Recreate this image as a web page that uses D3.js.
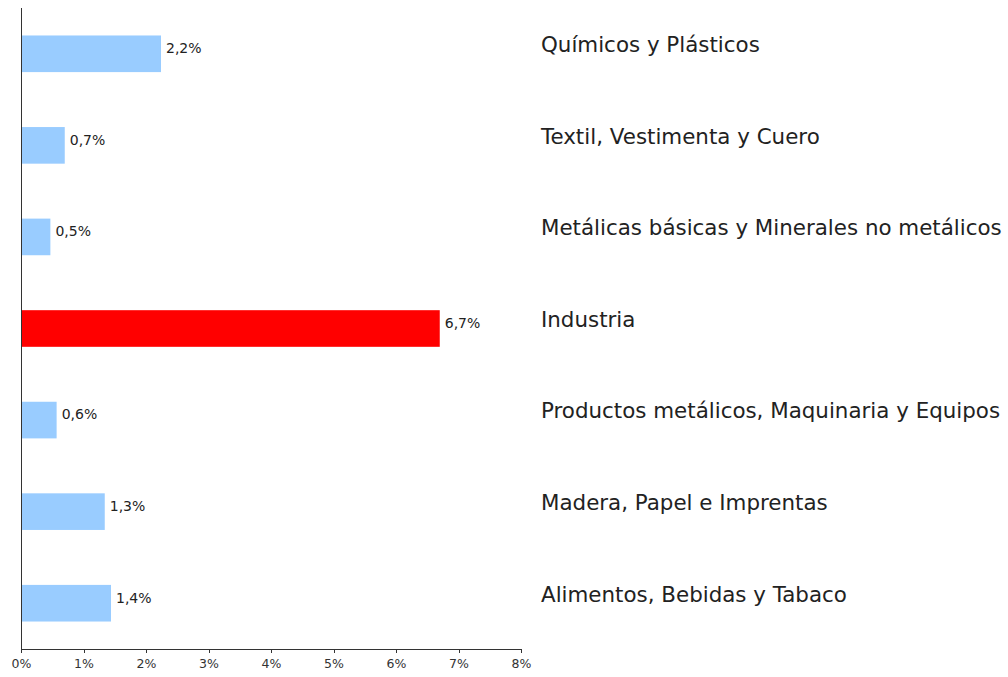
<!DOCTYPE html>
<meta charset="utf-8">
<style>
body { margin: 0; background: #fff; }
.axis path, .axis line { fill: none; stroke: #333; shape-rendering: crispEdges; }
.axis text { font: 12.5px "DejaVu Sans", sans-serif; fill: #333; }
.value { font: 14px "DejaVu Sans", sans-serif; fill: #222; }
.cat { font: 21.4px "DejaVu Sans", sans-serif; fill: #222; }
</style>
<body>
<script src="https://d3js.org/d3.v7.min.js"></script>
<script>

// data, top bar first
var categories = [
  "Químicos y Plásticos",
  "Textil, Vestimenta y Cuero",
  "Metálicas básicas y Minerales no metálicos",
  "Industria",
  "Productos metálicos, Maquinaria y Equipos",
  "Madera, Papel e Imprentas",
  "Alimentos, Bebidas y Tabaco"
];
var values = [2.24, 0.70, 0.47, 6.70, 0.57, 1.34, 1.44];
var highlight = ["Industria"];
var xTicks = [0, 1, 2, 3, 4, 5, 6, 7, 8];

var margin = {top: 8, right: 487, bottom: 28, left: 21},
    width = 1008 - margin.left - margin.right,
    height = 677 - margin.top - margin.bottom;

var svg = d3.select("body").append("svg")
    .attr("width", 1008)
    .attr("height", 677)
  .append("g")
    .attr("transform", "translate(" + margin.left + "," + margin.top + ")");

var x = d3.scaleLinear().domain([0, 8]).range([0, width]);
var y = d3.scaleBand().domain(categories).range([0, height])
    .paddingInner(0.6).paddingOuter(0.3);

var data = categories.map(function(c, i) { return {cat: c, v: values[i]}; });

// bars
svg.selectAll(".bar")
    .data(data)
  .enter().append("rect")
    .attr("class", "bar")
    .attr("x", 0)
    .attr("y", function(d) { return y(d.cat); })
    .attr("width", function(d) { return x(d.v); })
    .attr("height", y.bandwidth())
    .attr("fill", function(d) { return highlight.indexOf(d.cat) >= 0 ? "#ff0000" : "#99ccff"; });

// value labels
svg.selectAll(".value")
    .data(data)
  .enter().append("text")
    .attr("class", "value")
    .attr("x", function(d) { return x(d.v) + 5; })
    .attr("y", function(d) { return y(d.cat) + y.bandwidth() / 2; })
    .attr("dy", "-0.05em")
    .text(function(d) { return d.v.toFixed(1).replace(".", ",") + "%"; });

// category labels on the right
svg.selectAll(".cat")
    .data(data)
  .enter().append("text")
    .attr("class", "cat")
    .attr("x", width + 20)
    .attr("y", function(d) { return y(d.cat) + y.bandwidth() / 2; })
    .attr("dy", "-0.08em")
    .text(function(d) { return d.cat; });

// x axis
svg.append("g")
    .attr("class", "axis")
    .attr("transform", "translate(0," + height + ")")
    .call(d3.axisBottom(x).tickValues(xTicks).tickSize(4).tickSizeOuter(4)
      .tickPadding(6)
      .tickFormat(function(d) { return d + "%"; }));

// y axis line
svg.append("line")
    .attr("class", "axis")
    .attr("x1", 0).attr("x2", 0)
    .attr("y1", 0).attr("y2", height)
    .style("stroke", "#333")
    .style("shape-rendering", "crispEdges");

</script>
</body>
